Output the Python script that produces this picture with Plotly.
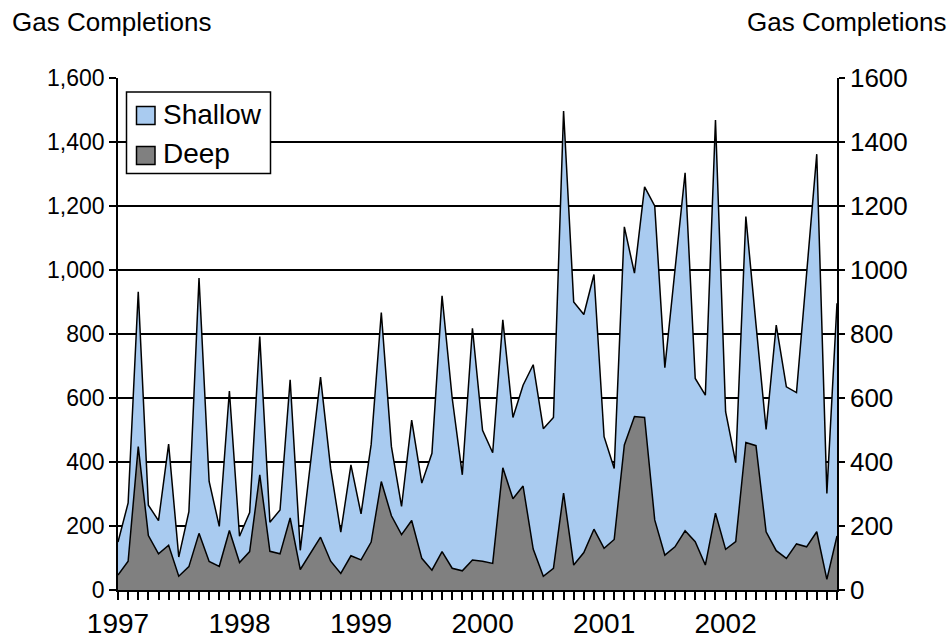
import plotly.graph_objects as go

# Monthly gas well completions, Jan 1997 - Dec 2002
years = ["1997", "1998", "1999", "2000", "2001", "2002"]
months_per_year = 12

deep = [
    47, 90, 448, 170, 113, 140, 43, 73, 177, 89, 74, 186,
    86, 120, 360, 121, 113, 225, 64, 115, 165, 90, 52, 107,
    94, 150, 339, 232, 173, 217, 99, 62, 120, 68, 60, 94,
    90, 83, 382, 285, 325, 128, 43, 68, 303, 78, 117, 190,
    130, 158, 453, 542, 539, 219, 109, 135, 185, 151, 78, 240,
    127, 151, 461, 451, 182, 123, 99, 144, 135, 182, 33, 169,
]

shallow = [
    103, 182, 484, 95, 104, 316, 60, 172, 798, 250, 125, 436,
    82, 122, 432, 91, 137, 432, 60, 275, 500, 290, 129, 284,
    144, 305, 528, 216, 88, 314, 235, 365, 799, 532, 300, 724,
    409, 346, 462, 254, 315, 576, 461, 471, 1194, 822, 744, 796,
    349, 222, 682, 448, 721, 981, 586, 865, 1119, 510, 531, 1229,
    430, 247, 706, 379, 320, 705, 536, 473, 865, 1180, 269, 727,
]

x = list(range(len(deep)))
tick_text = [years[i // months_per_year] if i % months_per_year == 0 else "" for i in x]

W, H = 950, 642
ML, MR, MT, MB = 118, 113, 78, 52
PW, PH = W - ML - MR, H - MT - MB


def px(xp):
    """pixel column -> paper x"""
    return (xp - ML) / PW


def py(yp):
    """pixel row (from top) -> paper y"""
    return (H - MB - yp) / PH


FONT = "Liberation Sans, Arial, sans-serif"
EDGE = dict(color="black", width=1.5)
DEEP_FILL = "#808080"
SHALLOW_FILL = "#a9cbf0"

fig = go.Figure()
fig.add_trace(go.Scatter(
    x=x, y=deep, name="Deep", mode="lines", stackgroup="wells",
    line=EDGE, fillcolor=DEEP_FILL, showlegend=False,
))
fig.add_trace(go.Scatter(
    x=x, y=shallow, name="Shallow", mode="lines", stackgroup="wells",
    line=EDGE, fillcolor=SHALLOW_FILL, showlegend=False,
))
# invisible trace that carries the right-hand axis
fig.add_trace(go.Scatter(
    x=[0, 71], y=[0, 1600], yaxis="y2", mode="markers",
    marker=dict(opacity=0), showlegend=False, hoverinfo="skip",
))

# legend box drawn in paper space: frame, two swatches and labels
legend_items = [("Shallow", SHALLOW_FILL, 106.5, 114), ("Deep", DEEP_FILL, 146.5, 153)]
shapes = [dict(type="rect", xref="paper", yref="paper",
               x0=px(126.5), x1=px(270.5), y0=py(173.5), y1=py(92),
               fillcolor="white", line=dict(color="black", width=1.5),
               layer="above")]
annotations = []
for name, colour, top, mid in legend_items:
    shapes.append(dict(type="rect", xref="paper", yref="paper",
                       x0=px(136.5), x1=px(155), y0=py(top + 18), y1=py(top),
                       fillcolor=colour, line=dict(color="black", width=1.5),
                       layer="above"))
    annotations.append(dict(text=name, xref="paper", yref="paper",
                            x=px(161), y=py(mid), xanchor="left", yanchor="middle",
                            showarrow=False, font=dict(size=28)))

annotations += [
    dict(text="Gas Completions", xref="paper", yref="paper",
         x=px(10), y=py(22), xanchor="left", yanchor="middle",
         showarrow=False, font=dict(size=26)),
    dict(text="Gas Completions", xref="paper", yref="paper",
         x=px(948), y=py(22), xanchor="right", yanchor="middle",
         showarrow=False, font=dict(size=26)),
]

fig.update_layout(
    width=W, height=H,
    margin=dict(l=ML, r=MR, t=MT, b=MB, autoexpand=False),
    paper_bgcolor="white", plot_bgcolor="white",
    font=dict(family=FONT, size=26, color="black"),
    showlegend=False,
    xaxis=dict(
        range=[0, 71], tickmode="array", tickvals=x, ticktext=tick_text,
        ticks="outside", ticklen=8, tickcolor="black", tickwidth=1.5,
        tickfont=dict(size=28), automargin=False,
        showline=True, linecolor="black", linewidth=1.5,
        showgrid=False, zeroline=False,
    ),
    yaxis=dict(
        range=[0, 1600], dtick=200, tickformat=",d",
        ticks="outside", ticklen=7, tickcolor="black", tickwidth=1.5,
        tickfont=dict(size=23), automargin=False,
        showline=True, linecolor="black", linewidth=1.5,
        showgrid=True, gridcolor="black", gridwidth=1.5, zeroline=False,
    ),
    yaxis2=dict(
        range=[0, 1600], dtick=200, tickformat="d",
        overlaying="y", side="right",
        ticks="outside", ticklen=6, tickcolor="black", tickwidth=1.5,
        tickfont=dict(size=26), automargin=False,
        showline=True, linecolor="black", linewidth=1.5,
        showgrid=False, zeroline=False,
    ),
    shapes=shapes,
    annotations=annotations,
)

fig.write_html("out.html")
